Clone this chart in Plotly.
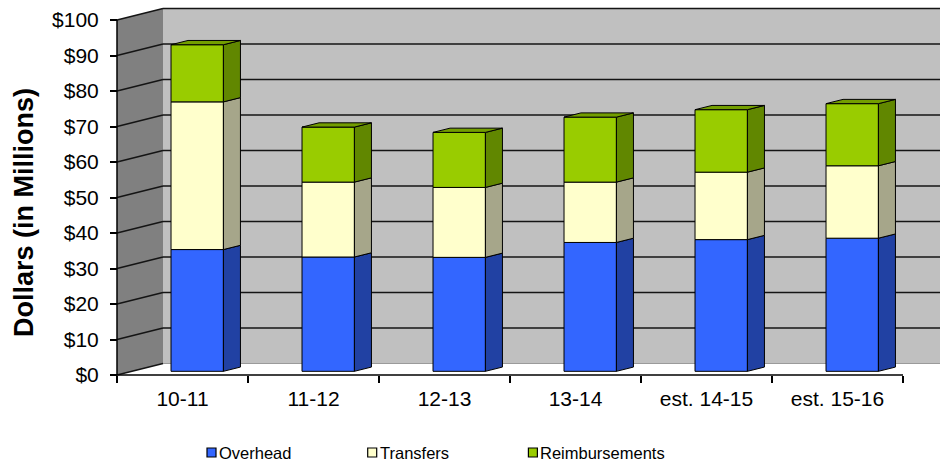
import plotly.graph_objects as go

# ---- data (millions of dollars) ----
categories = ["10-11", "11-12", "12-13", "13-14", "est. 14-15", "est. 15-16"]
overhead = [34.3, 32.2, 32.1, 36.3, 37.1, 37.5]
transfers = [41.6, 21.1, 19.7, 17.0, 19.0, 20.4]
reimbursements = [16.1, 15.5, 15.5, 18.3, 17.6, 17.5]
series_names = ["Overhead", "Transfers", "Reimbursements"]
y_ticks = list(range(0, 101, 10))
y_tick_labels = ["$" + str(v) for v in y_ticks]

# ---- styling ----
FONT = "Liberation Sans, Arial, sans-serif"
FRONT = ["#3366FF", "#FFFFCC", "#99CC00"]
SIDE = ["#2141A3", "#A6A68A", "#618700"]
TOP = ["#2850C8", "#C8C8A0", "#739E00"]
LEFT_WALL = "#808080"
BACK_WALL = "#C0C0C0"
GRID = "#141414"

W, H = 940, 466
PX_PER_CAT = 131.0
PX_PER_USD = 3.55
X0_PX = 117          # pixel of category edge -0.5
Y0_PX = 375          # pixel of $0
PLOT_LEFT = 105
PLOT_BOTTOM = 381

x_lo = -0.5 - (X0_PX - PLOT_LEFT) / PX_PER_CAT
x_hi = -0.5 + (W - X0_PX) / PX_PER_CAT
y_lo = -(PLOT_BOTTOM - Y0_PX) / PX_PER_USD
y_hi = Y0_PX / PX_PER_USD

# oblique depth of the floor / walls in axis units
DX = 46 / PX_PER_CAT
DY = 11.5 / PX_PER_USD
BAR_FRONT = 0.32     # depth fraction of the bar front face
BAR_BACK = 0.69      # depth fraction of the bar back face
BAR_W = 0.40

n = len(categories)
idx = list(range(n))
x_edge0 = -0.5
x_edge1 = n - 0.5

fig = go.Figure()

# ---- walls, floor and 3D gridlines ----
shapes = []
wall_x = x_edge0 + DX
shapes.append(dict(type="path", xref="x", yref="y", layer="below",
                   path=f"M{wall_x},{DY} L{x_hi + 1},{DY} L{x_hi + 1},{100 + DY} L{wall_x},{100 + DY} Z",
                   fillcolor=BACK_WALL, line=dict(width=0)))
shapes.append(dict(type="path", xref="x", yref="y", layer="below",
                   path=f"M{x_edge0},0 L{x_edge0},100 L{wall_x},{100 + DY} L{wall_x},{DY} Z",
                   fillcolor=LEFT_WALL, line=dict(width=0)))
# back edge of the floor
shapes.append(dict(type="line", xref="x", yref="y", layer="below",
                   x0=wall_x, y0=DY, x1=x_hi + 1, y1=DY,
                   line=dict(color="#9A9A9A", width=1.2)))
for v in y_ticks:
    shapes.append(dict(type="line", xref="x", yref="y", layer="below",
                       x0=x_edge0, y0=v, x1=wall_x, y1=v + DY,
                       line=dict(color=GRID, width=1.5)))
    if v > 0:
        shapes.append(dict(type="line", xref="x", yref="y", layer="below",
                           x0=wall_x, y0=v + DY, x1=x_hi + 1, y1=v + DY,
                           line=dict(color=GRID, width=1.5)))
# axis lines along the front edges
shapes.append(dict(type="line", xref="x", yref="y", layer="above",
                   x0=x_edge0, y0=0, x1=x_edge0, y1=100,
                   line=dict(color="black", width=1.5)))
shapes.append(dict(type="line", xref="x", yref="y", layer="above",
                   x0=x_edge0, y0=0, x1=x_edge1, y1=0,
                   line=dict(color="black", width=1.5)))

# ---- stacked 3D bars ----
stack = [overhead, transfers, reimbursements]
front_x = [i + BAR_FRONT * DX for i in idx]
lift = BAR_FRONT * DY
sdx = (BAR_BACK - BAR_FRONT) * DX
sdy = (BAR_BACK - BAR_FRONT) * DY
bottoms = [0.0] * n
tops_total = [sum(s[i] for s in stack) for i in idx]

for k, vals in enumerate(stack):
    base = [bottoms[i] + lift for i in idx]
    fig.add_trace(go.Bar(
        x=front_x, y=vals, base=base, width=BAR_W, name=series_names[k],
        marker=dict(color=FRONT[k], line=dict(color="black", width=1)),
        showlegend=False, hoverinfo="skip"))
    # right-hand side faces of this segment
    sx, sy = [], []
    for i in idx:
        xr = front_x[i] + BAR_W / 2
        b = base[i]
        t = base[i] + vals[i]
        sx += [xr, xr + sdx, xr + sdx, xr, xr, None]
        sy += [b, b + sdy, t + sdy, t, b, None]
    fig.add_trace(go.Scatter(
        x=sx, y=sy, mode="lines", fill="toself", fillcolor=SIDE[k],
        line=dict(color="black", width=1), showlegend=False, hoverinfo="skip"))
    bottoms = [bottoms[i] + vals[i] for i in idx]

# top faces of each stack
tx, ty = [], []
for i in idx:
    xl = front_x[i] - BAR_W / 2
    xr = front_x[i] + BAR_W / 2
    t = tops_total[i] + lift
    tx += [xl, xr, xr + sdx, xl + sdx, xl, None]
    ty += [t, t, t + sdy, t + sdy, t, None]
fig.add_trace(go.Scatter(
    x=tx, y=ty, mode="lines", fill="toself", fillcolor=TOP[2],
    line=dict(color="black", width=1), showlegend=False, hoverinfo="skip"))

# ---- legend drawn as swatches + labels ----
LEG_LEFT = 207
LEG_STEP = 160.7
LEG_Y = 452.5
SW = 9
annotations = []
for k, name in enumerate(series_names):
    x0 = LEG_LEFT + k * LEG_STEP
    shapes.append(dict(type="rect", xref="paper", yref="paper",
                       x0=x0 / W, x1=(x0 + SW) / W,
                       y0=(H - LEG_Y - SW / 2) / H, y1=(H - LEG_Y + SW / 2) / H,
                       fillcolor=FRONT[k], line=dict(color="black", width=1.2)))
    annotations.append(dict(xref="paper", yref="paper", x=(x0 + SW + 1) / W, y=(H - LEG_Y) / H,
                            xanchor="left", yanchor="middle", showarrow=False,
                            text=name, font=dict(family=FONT, size=16.5, color="black")))

annotations.append(dict(xref="paper", yref="paper", x=24 / W, y=(H - 213) / H,
                        xanchor="center", yanchor="middle", showarrow=False, textangle=-90,
                        text="<b>Dollars (in Millions)</b>",
                        font=dict(family=FONT, size=27, color="black")))

fig.update_layout(
    width=W, height=H,
    margin=dict(l=0, r=0, t=0, b=0),
    paper_bgcolor="white", plot_bgcolor="white",
    barmode="overlay",
    showlegend=False,
    shapes=shapes,
    annotations=annotations,
    font=dict(family=FONT, color="black"),
    xaxis=dict(
        domain=[PLOT_LEFT / W, 1], range=[x_lo, x_hi],
        anchor="free", position=(H - Y0_PX) / H,
        showgrid=False, zeroline=False, showline=False,
        tickmode="array", tickvals=idx, ticktext=categories, ticks="",
        ticklabelstandoff=9,
        tickfont=dict(family=FONT, size=21, color="black"),
        minor=dict(tickmode="array", tickvals=[i - 0.5 for i in range(n + 1)],
                   ticks="outside", ticklen=7, tickwidth=1.5, tickcolor="black", showgrid=False),
        automargin=False, fixedrange=True,
    ),
    yaxis=dict(
        domain=[(H - PLOT_BOTTOM) / H, 1], range=[y_lo, y_hi],
        anchor="free", position=X0_PX / W,
        showgrid=False, zeroline=False, showline=False,
        tickmode="array", tickvals=y_ticks, ticktext=y_tick_labels,
        ticks="outside", ticklen=7, tickwidth=1.5, tickcolor="black",
        ticklabelstandoff=7,
        tickfont=dict(family=FONT, size=21, color="black"),
        automargin=False, fixedrange=True,
    ),
)

fig.write_html("out.html")
